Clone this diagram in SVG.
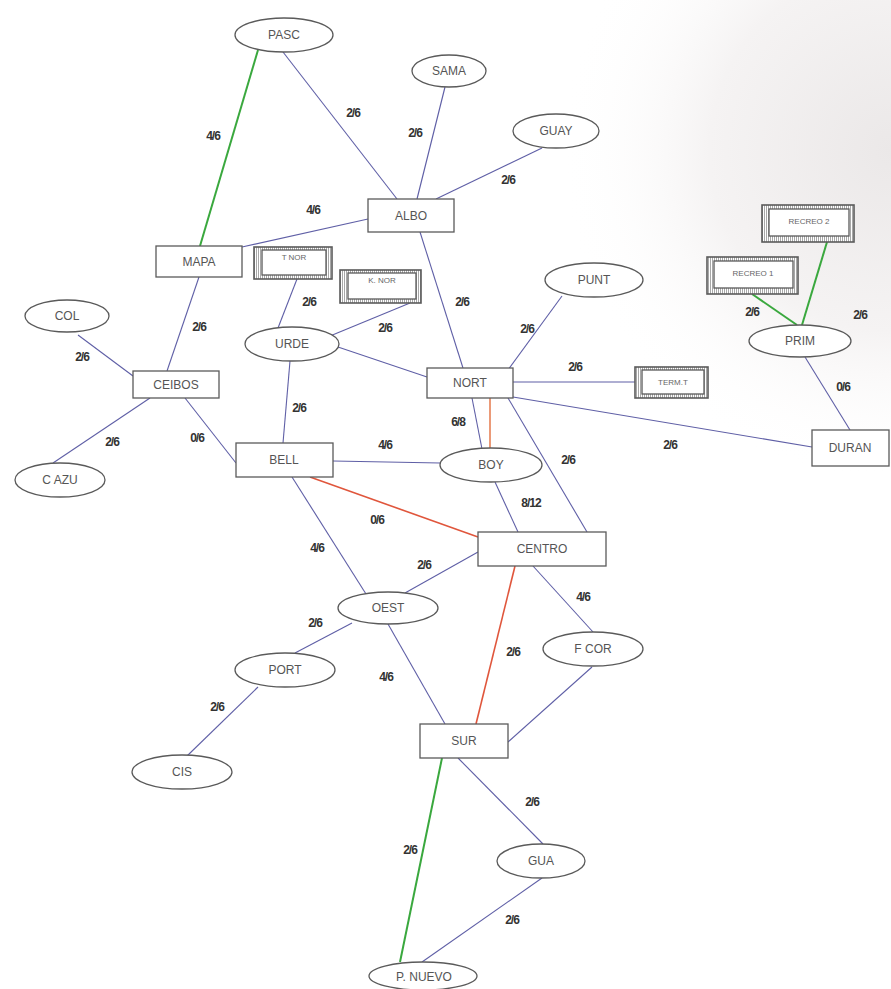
<svg xmlns="http://www.w3.org/2000/svg" width="891" height="989" viewBox="0 0 891 989">
<defs>
<radialGradient id="shade" cx="891" cy="150" r="330" gradientUnits="userSpaceOnUse">
<stop offset="0" stop-color="#ebe8e8"/>
<stop offset="0.55" stop-color="#f5f3f3"/>
<stop offset="1" stop-color="#ffffff" stop-opacity="0"/>
</radialGradient>
<pattern id="hatch" width="2" height="2" patternUnits="userSpaceOnUse">
<rect width="2" height="2" fill="#ffffff"/>
<line x1="0.5" y1="0" x2="0.5" y2="2" stroke="#a8a8a8" stroke-width="1"/>
</pattern>
</defs>
<style>
.bg{fill:#ffffff}
.n{fill:#ffffff;stroke:#5a5a5a;stroke-width:1.3}
.dbl{fill:url(#hatch);stroke:#5a5a5a;stroke-width:1.6}
.in{fill:#ffffff;stroke:#5a5a5a;stroke-width:1.3}
.t{font-family:"Liberation Sans",Arial,sans-serif;font-size:12px;fill:#555555;text-anchor:middle}
.ts{font-family:"Liberation Sans",Arial,sans-serif;font-size:8px;fill:#666666;text-anchor:middle}
.e{stroke:#5f5fa6;stroke-width:1.1;fill:none}
.g{stroke:#3aa83e;stroke-width:2;fill:none}
.r{stroke:#e0563c;stroke-width:1.6;fill:none}
.o{stroke:#eb9a78;stroke-width:2;fill:none}
.l{font-family:"Liberation Sans",Arial,sans-serif;font-size:12px;font-weight:bold;fill:#333333;text-anchor:middle;letter-spacing:-1px}
</style>
<rect class="bg" width="891" height="989"/>
<rect width="891" height="989" fill="url(#shade)"/>

<g id="connectors">
<line class="g" x1="258" y1="50" x2="200" y2="246"/>
<line class="e" x1="283" y1="52" x2="397" y2="199"/>
<line class="e" x1="445" y1="87" x2="417" y2="199"/>
<line class="e" x1="542" y1="148" x2="436" y2="199"/>
<line class="e" x1="368" y1="219" x2="242" y2="247"/>
<line class="e" x1="420" y1="232" x2="463" y2="368"/>
<line class="e" x1="199" y1="277" x2="167" y2="371"/>
<line class="e" x1="78" y1="335" x2="133" y2="376"/>
<line class="e" x1="150" y1="398" x2="53" y2="463"/>
<line class="e" x1="185" y1="398" x2="236" y2="463"/>
<line class="e" x1="297" y1="279" x2="278" y2="328"/>
<line class="e" x1="410" y1="303" x2="330" y2="336"/>
<line class="e" x1="338" y1="347" x2="427" y2="377"/>
<line class="e" x1="290" y1="361" x2="283" y2="443"/>
<line class="e" x1="333" y1="461" x2="440" y2="463"/>
<line class="e" x1="508" y1="370" x2="562" y2="296"/>
<line class="e" x1="513" y1="382" x2="635" y2="382"/>
<line class="e" x1="513" y1="397" x2="812" y2="447"/>
<line class="e" x1="472" y1="398" x2="482" y2="449"/>
<line class="o" x1="490" y1="398" x2="490" y2="448"/>
<line class="e" x1="508" y1="398" x2="587" y2="532"/>
<line class="e" x1="495" y1="482" x2="518" y2="532"/>
<line class="r" x1="310" y1="477" x2="478" y2="537"/>
<line class="e" x1="292" y1="477" x2="366" y2="594"/>
<line class="e" x1="388" y1="624" x2="445" y2="724"/>
<line class="e" x1="405" y1="593" x2="478" y2="552"/>
<line class="e" x1="352" y1="623" x2="295" y2="653"/>
<line class="e" x1="258" y1="687" x2="187" y2="756"/>
<line class="r" x1="515" y1="566" x2="476" y2="724"/>
<line class="e" x1="533" y1="566" x2="593" y2="632"/>
<line class="e" x1="592" y1="667" x2="508" y2="742"/>
<line class="e" x1="458" y1="758" x2="543" y2="844"/>
<line class="g" x1="442" y1="758" x2="400" y2="962"/>
<line class="e" x1="542" y1="878" x2="422" y2="962"/>
<line class="g" x1="797" y1="325" x2="752" y2="294"/>
<line class="g" x1="802" y1="325" x2="827" y2="242"/>
<line class="e" x1="805" y1="357" x2="850" y2="430"/>
</g>

<g id="edge-labels">
<text class="l" x="213" y="140">4/6</text>
<text class="l" x="353" y="117">2/6</text>
<text class="l" x="415" y="137">2/6</text>
<text class="l" x="508" y="184">2/6</text>
<text class="l" x="313" y="214">4/6</text>
<text class="l" x="462" y="306">2/6</text>
<text class="l" x="199" y="331">2/6</text>
<text class="l" x="82" y="361">2/6</text>
<text class="l" x="112" y="446">2/6</text>
<text class="l" x="197" y="442">0/6</text>
<text class="l" x="309" y="306">2/6</text>
<text class="l" x="385" y="332">2/6</text>
<text class="l" x="299" y="412">2/6</text>
<text class="l" x="385" y="449">4/6</text>
<text class="l" x="527" y="333">2/6</text>
<text class="l" x="575" y="371">2/6</text>
<text class="l" x="670" y="449">2/6</text>
<text class="l" x="458" y="426">6/8</text>
<text class="l" x="568" y="464">2/6</text>
<text class="l" x="531" y="507">8/12</text>
<text class="l" x="377" y="524">0/6</text>
<text class="l" x="317" y="552">4/6</text>
<text class="l" x="424" y="569">2/6</text>
<text class="l" x="315" y="627">2/6</text>
<text class="l" x="386" y="681">4/6</text>
<text class="l" x="217" y="711">2/6</text>
<text class="l" x="513" y="656">2/6</text>
<text class="l" x="583" y="601">4/6</text>
<text class="l" x="532" y="806">2/6</text>
<text class="l" x="410" y="854">2/6</text>
<text class="l" x="512" y="924">2/6</text>
<text class="l" x="752" y="316">2/6</text>
<text class="l" x="860" y="319">2/6</text>
<text class="l" x="843" y="391">0/6</text>
</g>

<g id="PASC"><ellipse class="n" cx="284" cy="35" rx="49" ry="17"/><text class="t" x="284" y="39">PASC</text></g>
<g id="SAMA"><ellipse class="n" cx="449" cy="71" rx="37" ry="16"/><text class="t" x="449" y="75">SAMA</text></g>
<g id="GUAY"><ellipse class="n" cx="556" cy="131" rx="43" ry="17"/><text class="t" x="556" y="135">GUAY</text></g>
<g id="ALBO"><rect class="n" x="368" y="199" width="86" height="33"/><text class="t" x="411" y="220">ALBO</text></g>
<g id="MAPA"><rect class="n" x="156" y="246" width="86" height="31"/><text class="t" x="199" y="266">MAPA</text></g>
<g id="TNOR"><rect class="dbl" x="254" y="247" width="78" height="32"/><rect class="in" x="262" y="250" width="64" height="25"/><text class="ts" x="294" y="260">T NOR</text></g>
<g id="KNOR"><rect class="dbl" x="340" y="270" width="81" height="33"/><rect class="in" x="348" y="273" width="68" height="26"/><text class="ts" x="382" y="283">K. NOR</text></g>
<g id="COL"><ellipse class="n" cx="67" cy="316" rx="42" ry="16"/><text class="t" x="67" y="320">COL</text></g>
<g id="URDE"><ellipse class="n" cx="292" cy="344" rx="47" ry="17"/><text class="t" x="292" y="348">URDE</text></g>
<g id="CEIBOS"><rect class="n" x="133" y="371" width="86" height="27"/><text class="t" x="176" y="389">CEIBOS</text></g>
<g id="CAZU"><ellipse class="n" cx="60" cy="480" rx="45" ry="17"/><text class="t" x="60" y="484">C AZU</text></g>
<g id="BELL"><rect class="n" x="236" y="443" width="97" height="34"/><text class="t" x="284" y="464">BELL</text></g>
<g id="NORT"><rect class="n" x="427" y="368" width="86" height="30"/><text class="t" x="470" y="387">NORT</text></g>
<g id="PUNT"><ellipse class="n" cx="594" cy="280" rx="49" ry="17"/><text class="t" x="594" y="284">PUNT</text></g>
<g id="TERMT"><rect class="dbl" x="635" y="367" width="73" height="31"/><rect class="in" x="642" y="370" width="62" height="24"/><text class="ts" x="673" y="385">TERM.T</text></g>
<g id="RECREO2"><rect class="dbl" x="762" y="205" width="92" height="37"/><rect class="in" x="769" y="209" width="80" height="27"/><text class="ts" x="809" y="224">RECREO 2</text></g>
<g id="RECREO1"><rect class="dbl" x="707" y="257" width="91" height="37"/><rect class="in" x="714" y="261" width="79" height="27"/><text class="ts" x="753" y="276">RECREO 1</text></g>
<g id="PRIM"><ellipse class="n" cx="800" cy="341" rx="51" ry="16"/><text class="t" x="800" y="345">PRIM</text></g>
<g id="DURAN"><rect class="n" x="812" y="430" width="77" height="36"/><text class="t" x="850" y="452">DURAN</text></g>
<g id="BOY"><ellipse class="n" cx="491" cy="465" rx="51" ry="17"/><text class="t" x="491" y="469">BOY</text></g>
<g id="CENTRO"><rect class="n" x="478" y="532" width="128" height="34"/><text class="t" x="542" y="553">CENTRO</text></g>
<g id="OEST"><ellipse class="n" cx="388" cy="608" rx="50" ry="16"/><text class="t" x="388" y="612">OEST</text></g>
<g id="FCOR"><ellipse class="n" cx="593" cy="649" rx="50" ry="17"/><text class="t" x="593" y="653">F COR</text></g>
<g id="PORT"><ellipse class="n" cx="285" cy="670" rx="50" ry="17"/><text class="t" x="285" y="674">PORT</text></g>
<g id="CIS"><ellipse class="n" cx="182" cy="772" rx="50" ry="17"/><text class="t" x="182" y="776">CIS</text></g>
<g id="SUR"><rect class="n" x="420" y="724" width="88" height="34"/><text class="t" x="464" y="745">SUR</text></g>
<g id="GUA"><ellipse class="n" cx="541" cy="861" rx="44" ry="17"/><text class="t" x="541" y="865">GUA</text></g>
<g id="PNUEVO"><ellipse class="n" cx="423" cy="976" rx="54" ry="14"/><text class="t" x="424" y="981">P. NUEVO</text></g>
</svg>
